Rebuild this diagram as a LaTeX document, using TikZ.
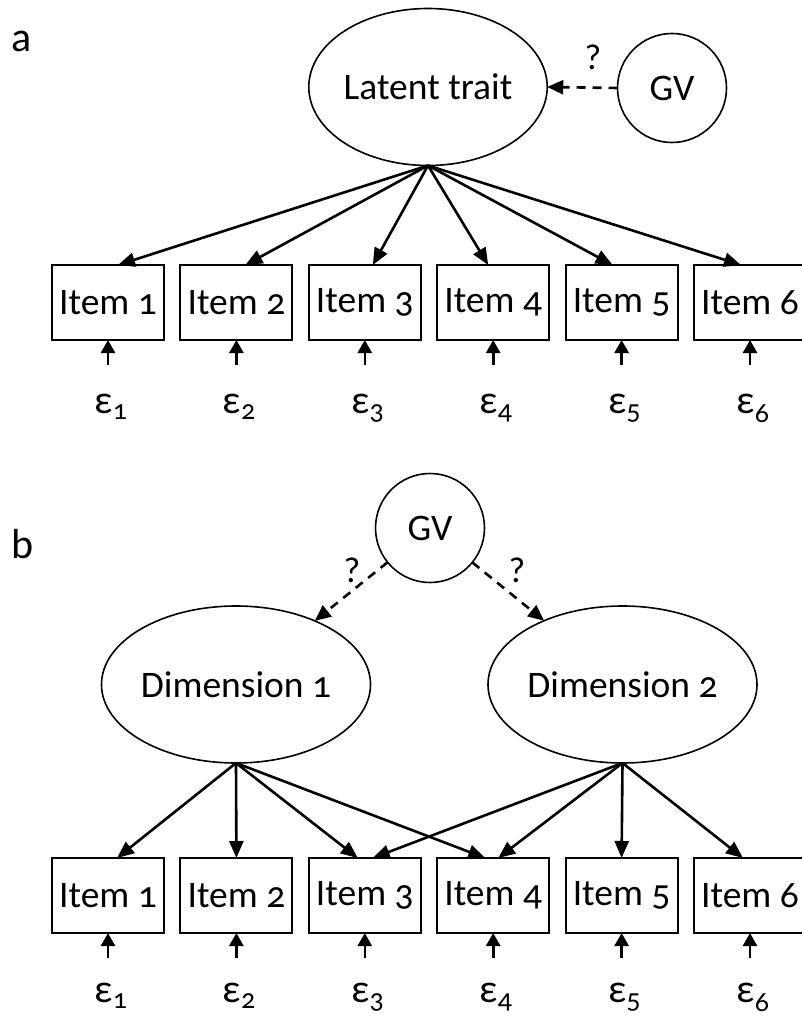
\documentclass[tikz,border=0pt]{standalone}
\usepackage{fontspec}
\setmainfont{Carlito}[Numbers=OldStyle]
\usetikzlibrary{arrows.meta,shapes.geometric}
\newcommand\lblfont{\fontsize{37.5}{42}\selectfont}
\newcommand\epsfont{\fontsize{40}{44}\selectfont}
\newcommand\qfont{\fontsize{36}{40}\selectfont}
\newcommand\panelfont{\fontsize{42}{46}\selectfont}

\begin{document}
\begin{tikzpicture}[x=1pt,y=-1pt,
  latent/.style={ellipse,draw,line width=1.6pt,minimum width=230pt,minimum height=157pt,
    inner sep=0pt,outer sep=0pt,font=\lblfont},
  gvnode/.style={circle,draw,line width=1.6pt,minimum size=109pt,inner sep=0pt,outer sep=0pt,font=\lblfont},
  itembox/.style={rectangle,draw,line width=2pt,minimum width=112pt,minimum height=75pt,
    inner sep=0pt,outer sep=0pt,font=\lblfont},
  errlbl/.style={anchor=base,inner sep=0pt,font=\epsfont},
  panel/.style={anchor=base west,inner sep=0pt,font=\panelfont},
  qmark/.style={inner sep=0pt,font=\qfont},
  load/.style={line width=2.6pt,-{Triangle[length=17pt,width=14pt]}},
  errarrow/.style={line width=2.6pt,-{Triangle[length=13pt,width=14pt]}},
  effect/.style={line width=2.6pt,dash pattern=on 9pt off 7pt,-{Triangle[length=16pt,width=14pt]}}
]
\useasboundingbox (0,0) rectangle (801,1016);

% ---------------- panel a: one latent trait ----------------
\node[panel] (pa) at (11,52) {a};
\node[latent] (LT) at (428,87) {Latent trait};
\node[gvnode] (GVa) at (672,88) {GV};
\draw[effect] (GVa.west) -- (LT.east);
\node[qmark] (qa) at (593,57) {?};

\foreach \i/\x in {1/108,2/236.4,3/364.8,4/493.2,5/621.6,6/750}{
  \node[itembox] (a\i) at (\x,302.5) {Item \i};
  \coordinate (ta\i) at (\x,365);
  \draw[errarrow] (ta\i) -- (a\i.south);
  \node[errlbl] (ea\i) at (\x+3,413) {ε\textsubscript{\i}};
}
\foreach \i/\dx in {1/10,2/9,3/8,4/-5,5/-9,6/-9}{
  \draw[load] (LT.south) -- ([xshift=\dx pt]a\i.north);
}

% ---------------- panel b: two dimensions ----------------
\node[panel] (pb) at (11,558) {b};
\node[gvnode] (GVb) at (430,528) {GV};
\node[latent] (D1) at (236,684.5) {Dimension 1};
\node[latent] (D2) at (622.5,684.5) {Dimension 2};
\draw[effect] (GVb) -- (D1);
\draw[effect] (GVb) -- (D2);
\node[qmark] (qb1) at (352,570) {?};
\node[qmark] (qb2) at (517,570) {?};

\foreach \i/\x in {1/108,2/236.4,3/364.8,4/493.2,5/621.6,6/750}{
  \node[itembox] (b\i) at (\x,895.5) {Item \i};
  \coordinate (tb\i) at (\x,958);
  \draw[errarrow] (tb\i) -- (b\i.south);
  \node[errlbl] (eb\i) at (\x+3,1002) {ε\textsubscript{\i}};
}
\foreach \i/\dx in {1/9,2/0,3/-7,4/-8}{
  \draw[load] (D1.south) -- ([xshift=\dx pt]b\i.north);
}
\foreach \i/\dx in {3/8,4/5,5/0,6/-7}{
  \draw[load] (D2.south) -- ([xshift=\dx pt]b\i.north);
}
\end{tikzpicture}
\end{document}
